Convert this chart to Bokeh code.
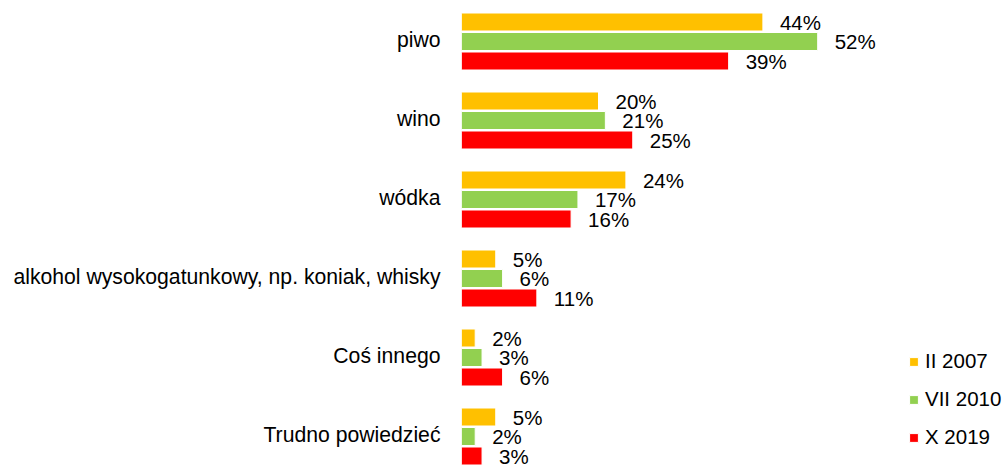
from bokeh.plotting import figure
from bokeh.models import ColumnDataSource, Range1d, FixedTicker, Legend, LegendItem
from bokeh.embed import file_html
from bokeh.resources import INLINE
from bokeh.core.properties import value

categories = ["piwo", "wino", "wódka", "alkohol wysokogatunkowy, np. koniak, whisky",
              "Coś innego", "Trudno powiedzieć"]
series_names = ["II 2007", "VII 2010", "X 2019"]
ii_2007 = [44, 20, 24, 5, 2, 5]
vii_2010 = [52, 21, 17, 6, 3, 2]
x_2019 = [39, 25, 16, 11, 6, 3]
colors = ["#FFC000", "#92D050", "#FF0000"]

FONT = "Liberation Sans"
FS = "20.5px"

pitch = 79.0
p = figure(width=1003, height=466, output_backend="svg", toolbar_location=None,
           x_range=Range1d(0, 542 / 6.85),
           y_range=Range1d(5 + 30 / pitch, -41 / pitch),
           min_border_left=461, min_border_right=0, min_border_top=0, min_border_bottom=0)
p.outline_line_color = None
p.xgrid.visible = False
p.ygrid.visible = False
p.xaxis.visible = False
tick_pos = [i - 0.025 for i in range(len(categories))]
p.yaxis.ticker = FixedTicker(ticks=tick_pos)
p.yaxis.major_label_overrides = {t: c for t, c in zip(tick_pos, categories)}
p.yaxis.axis_line_color = None
p.yaxis.major_tick_line_color = None
p.yaxis.minor_tick_line_color = None
p.yaxis.major_label_standoff = 15
p.yaxis.major_label_text_font = FONT
p.yaxis.major_label_text_font_size = "21.2px"
p.yaxis.major_label_text_color = "#000000"

offsets = [-19.5 / pitch, 0.0, 19.5 / pitch]
bar_h = 18.0 / pitch
items = []
for vals, name, col, off in zip([ii_2007, vii_2010, x_2019], series_names, colors, offsets):
    src = ColumnDataSource(dict(
        y=[i + off for i in range(len(categories))],
        v=vals,
        lab=[f"{v}%" for v in vals],
    ))
    r = p.hbar(y="y", right="v", left=0, height=bar_h, source=src,
               fill_color=col, line_color="white", line_width=1)
    p.text(x="v", y="y", text="lab", source=src, x_offset=17, y_offset=0,
           text_baseline="middle", text_align="left",
           text_font=value(FONT), text_font_size=FS, text_color="#000000")
    items.append(LegendItem(label=name, renderers=[r]))

legend = Legend(items=items, location=(447, 17), orientation="vertical",
                glyph_width=11, glyph_height=11, label_height=21, spacing=14,
                label_standoff=6, padding=0, margin=0,
                border_line_color=None, background_fill_alpha=0,
                label_text_font=FONT, label_text_font_size=FS, label_text_color="#000000")
p.add_layout(legend)

open("out.html", "w").write(file_html(p, INLINE))
